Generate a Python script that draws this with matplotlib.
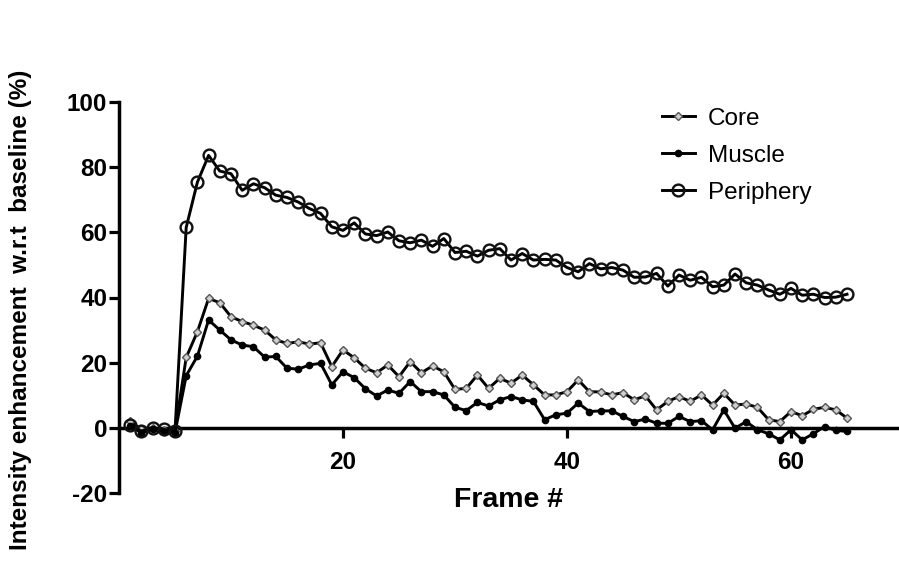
import matplotlib
matplotlib.use("Agg")
import matplotlib.pyplot as plt
import numpy as np

plt.rcParams['font.family'] = ['Liberation Sans', 'DejaVu Sans']
plt.rcParams['axes.unicode_minus'] = False

frames = np.arange(1, 66)

core = [2.0, -0.5, 0.0, -0.8, -1.0, 21.6, 29.5, 39.7, 38.4, 34.1, 32.6, 31.5, 30.0,
        27.0, 25.9, 26.4, 25.7, 26.1, 18.8, 23.9, 21.5, 18.3, 16.9, 19.3, 15.7, 20.3,
        16.9, 19.0, 17.2, 11.8, 12.1, 16.2, 12.1, 15.2, 13.7, 16.2, 13.2, 10.1, 10.1,
        11.1, 14.7, 11.1, 11.0, 10.1, 10.8, 8.6, 9.8, 5.5, 8.1, 9.6, 8.1, 10.1, 7.0,
        10.6, 7.0, 7.3, 6.3, 2.5, 1.9, 5.0, 3.7, 5.7, 6.3, 5.5, 3.0]

muscle = [0.5, -1.5, -0.5, -1.2, -1.5, 16.0, 22.0, 33.1, 30.0, 27.0, 25.4, 24.9, 21.7,
          21.9, 18.3, 18.0, 19.3, 19.8, 13.2, 17.2, 15.4, 12.0, 9.8, 11.6, 10.6, 14.2,
          11.1, 11.1, 10.1, 6.3, 5.3, 7.8, 6.7, 8.6, 9.6, 8.6, 8.1, 2.5, 4.0, 4.5, 7.6,
          5.0, 5.2, 5.2, 3.5, 1.9, 2.7, 1.4, 1.4, 3.5, 1.9, 2.2, -0.6, 5.5, -0.1, 1.9,
          -0.6, -1.8, -3.7, -0.6, -3.7, -1.8, 0.4, -0.8, -1.1]

periphery = [1.0, -1.0, 0.0, -0.5, -1.0, 61.5, 75.4, 83.6, 78.8, 78.0, 72.9, 74.9, 73.7,
             71.4, 70.7, 69.3, 67.3, 65.8, 61.7, 60.6, 62.9, 59.5, 59.0, 60.1, 57.4, 56.8,
             57.6, 55.7, 58.1, 53.8, 54.2, 52.7, 54.5, 55.0, 51.5, 53.5, 51.5, 51.7, 51.5,
             49.2, 47.9, 50.4, 48.8, 49.2, 48.4, 46.2, 46.3, 47.4, 43.5, 46.9, 45.3, 46.2,
             43.3, 43.8, 47.2, 44.5, 43.8, 42.3, 41.0, 42.8, 40.7, 41.0, 40.0, 40.1, 41.0]

series_names = ["Core", "Muscle", "Periphery"]
y_ticks = [-20, 0, 20, 40, 60, 80, 100]
x_ticks = [20, 40, 60]

fig = plt.figure(figsize=(8.99, 5.67), dpi=100)
ax = fig.add_axes([119 / 899, 74 / 567, 780 / 899, 391 / 567])

lw = 2.1
ax.plot(frames, core, color='black', lw=lw, marker='D', markersize=4.5,
        markerfacecolor='#d0d0d0', markeredgecolor='#555555', markeredgewidth=1.0,
        label=series_names[0], zorder=3)
ax.plot(frames, muscle, color='black', lw=lw, marker='o', markersize=4.5,
        markerfacecolor='black', markeredgecolor='black',
        label=series_names[1], zorder=3)
ax.plot(frames, periphery, color='black', lw=lw, marker='o', markersize=8.5,
        markerfacecolor='none', markeredgecolor='#111111', markeredgewidth=1.7,
        label=series_names[2], zorder=3)

ax.set_xlim(0, 780 / 11.2)
ax.set_ylim(-20, 100)

for s in ['top', 'right']:
    ax.spines[s].set_visible(False)
ax.spines['bottom'].set_position(('data', 0))
ax.spines['left'].set_bounds(-20, 100)
ax.spines['left'].set_linewidth(2.5)
ax.spines['bottom'].set_linewidth(2.5)

ax.set_yticks(y_ticks)
ax.set_xticks(x_ticks)
ax.tick_params(axis='both', direction='out', length=7, width=2.3, labelsize=17.5)
ax.tick_params(axis='y', pad=1.5)
ax.tick_params(axis='x', pad=10)
for lab in ax.get_xticklabels() + ax.get_yticklabels():
    lab.set_fontweight('bold')

ax.set_xlabel("Frame #", fontsize=20.5, fontweight='bold')
ax.xaxis.set_label_coords(0.50, 0.015)
ax.set_ylabel("Intensity enhancement  w.r.t  baseline (%)", fontsize=17.5, fontweight='bold')
ax.yaxis.set_label_coords(-0.1115, 0.468)

leg = ax.legend(frameon=False, loc='upper left', bbox_to_anchor=(652 / 899, 1 - 98 / 567),
                bbox_transform=fig.transFigure, fontsize=17.5, handlelength=1.35,
                handletextpad=0.55, labelspacing=0.62, borderaxespad=0)

fig.savefig("out.png", dpi=100)
